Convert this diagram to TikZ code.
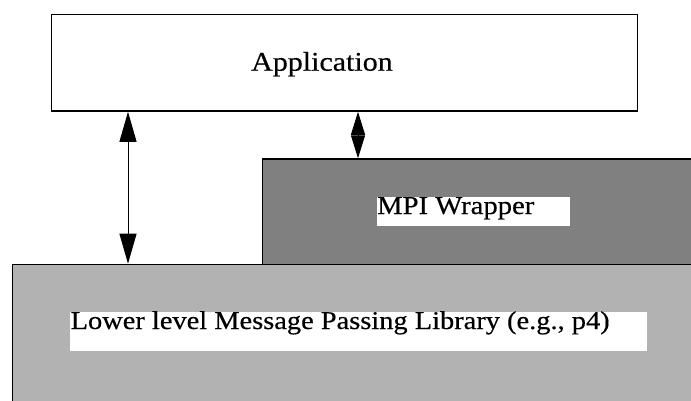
\documentclass[tikz,border=0pt]{standalone}
\usepackage{fontspec}
\setmainfont[FakeStretch=1.11,FakeBold=0.4]{Liberation Serif}
\usetikzlibrary{arrows.meta}
\definecolor{wrapgray}{RGB}{128,128,128}
\definecolor{libgray}{RGB}{178,178,178}
\begin{document}
\begin{tikzpicture}[x=1pt,y=-1pt,
  layer/.style={draw=black,line width=1.3pt,inner sep=0pt,anchor=north west},
  tag/.style={fill=white,inner sep=0pt,anchor=north west},
  lbl/.style={inner sep=0pt,anchor=base west},
  longlink/.style={line width=1pt,{Triangle[length=30pt,width=17pt]}-{Triangle[length=30pt,width=17pt]}},
  shortlink/.style={line width=1pt,{Triangle[length=23pt,width=14pt]}-{Triangle[length=23pt,width=14pt]}}]
\useasboundingbox (0,0) rectangle (691,401);
\clip (0,0) rectangle (691,401);
\fill[white] (0,0) rectangle (691,401);

% layers, the lower two run off the right and bottom edges
\node[layer,fill=libgray,minimum width=720pt,minimum height=160pt] (lib) at (11.7,263.7) {};
\node[layer,fill=wrapgray,minimum width=460pt,minimum height=105.4pt] (wrap) at (261.7,158.3) {};
\node[layer,fill=white,minimum width=586pt,minimum height=96.5pt] (app) at (50.5,14) {};

% white text frames
\node[tag,minimum width=193pt,minimum height=29pt] (wraptag) at (377,197) {};
\node[tag,minimum width=577pt,minimum height=39pt] (libtag) at (70,312) {};

% labels
\node[lbl,font=\fontsize{27}{32}\selectfont] (apptext) at (251,70.7) {Application};
\node[lbl,font=\fontsize{25.8}{30}\selectfont] (wraptext) at (377,214) {MPI Wrapper};
\node[lbl,font=\fontsize{25.6}{30}\selectfont] (libtext) at (70.5,329) {Lower level Message Passing Library (e.g., p4)};

% connectors
\coordinate (ax) at (128,0);
\coordinate (bx) at (358,0);
\draw[longlink] (app.south -| ax) -- (lib.north -| ax);
\draw[shortlink] (app.south -| bx) -- (wrap.north -| bx);
\end{tikzpicture}
\end{document}
